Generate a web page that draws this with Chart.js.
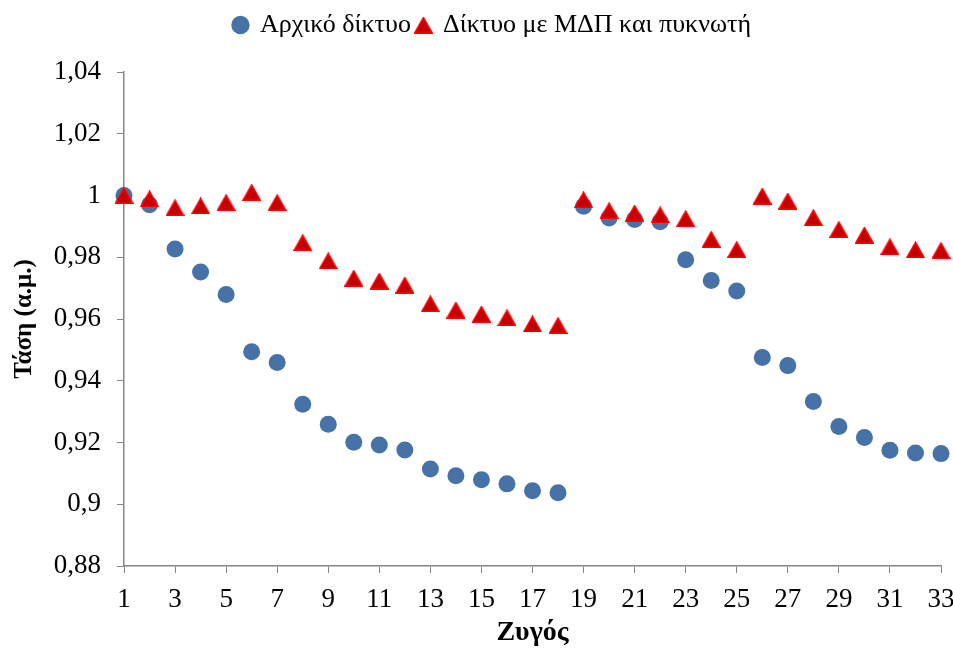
<!DOCTYPE html>
<html>
<head>
<meta charset="utf-8">
<script src="https://cdn.jsdelivr.net/npm/chart.js@4/dist/chart.umd.min.js"></script>
<style>
  html, body { margin: 0; padding: 0; background: #ffffff; }
  #wrap { width: 953px; height: 651px; }
</style>
</head>
<body>
<div id="wrap"><canvas id="chart" width="953" height="651"></canvas></div>
<script>
// Bus numbers (x axis)
const buses = [1, 2, 3, 4, 5, 6, 7, 8, 9, 10, 11, 12, 13, 14, 15, 16, 17,
               18, 19, 20, 21, 22, 23, 24, 25, 26, 27, 28, 29, 30, 31, 32, 33];

// Bus voltage, original network (p.u.)
const voltageBase = [1.0000, 0.9970, 0.9827, 0.9752, 0.9679, 0.9494, 0.9459, 0.9324,
                     0.9259, 0.9201, 0.9192, 0.9176, 0.9114, 0.9092, 0.9079, 0.9066,
                     0.9044, 0.9037, 0.9965, 0.9927, 0.9922, 0.9915, 0.9792, 0.9725,
                     0.9691, 0.9475, 0.9449, 0.9333, 0.9252, 0.9216, 0.9175, 0.9166,
                     0.9164];

// Bus voltage, network with DG and capacitor (p.u.)
const voltageDgCap = [1.0000, 0.9989, 0.9960, 0.9966, 0.9977, 1.0010, 0.9977, 0.9847,
                      0.9788, 0.9732, 0.9723, 0.9710, 0.9649, 0.9629, 0.9616, 0.9604,
                      0.9584, 0.9579, 0.9986, 0.9951, 0.9943, 0.9937, 0.9925, 0.9858,
                      0.9825, 0.9998, 0.9982, 0.9928, 0.9890, 0.9872, 0.9834, 0.9824,
                      0.9822];

const seriesNames = ['Αρχικό δίκτυο', 'Δίκτυο με ΜΔΠ και πυκνωτή'];
const xTitle = 'Ζυγός';
const yTitle = 'Τάση (α.μ.)';
const yRange = { min: 0.88, max: 1.04, step: 0.02 };
const xRange = { min: 1, max: 33, step: 2 };

const FONT = "'Liberation Serif', 'Times New Roman', serif";

// Red triangle marker, centred on its bounding box
function triangleMarker() {
  const c = document.createElement('canvas');
  c.width = 19; c.height = 17;
  const g = c.getContext('2d');
  g.beginPath();
  g.moveTo(9.5, 0.9);
  g.lineTo(18.2, 16.2);
  g.lineTo(0.8, 16.2);
  g.closePath();
  g.fillStyle = '#c40000';
  g.fill();
  g.lineWidth = 1.4;
  g.strokeStyle = '#ff0000';
  g.lineJoin = 'miter';
  g.stroke();
  return c;
}
const tri = triangleMarker();

// Moves the legend row above the plot (right and up)
const legendOffset = {
  id: 'legendOffset',
  afterLayout(chart) {
    const lg = chart.legend;
    if (lg) {
      lg.left += 16; lg.right += 16;
      lg.top -= 24; lg.bottom -= 24;
    }
  }
};

const fmt = v => {
  const r = Math.round(v * 100) / 100;
  return String(r).replace('.', ',');
};

new Chart(document.getElementById('chart'), {
  type: 'scatter',
  data: {
    datasets: [
      {
        label: seriesNames[0],
        data: buses.map((b, i) => ({ x: b, y: voltageBase[i] })),
        order: 1,
        pointStyle: 'circle',
        pointRadius: 8.5,
        pointHoverRadius: 8.5,
        backgroundColor: '#4672a8',
        borderColor: '#4672a8',
        borderWidth: 0,
        showLine: false,
        clip: false
      },
      {
        label: seriesNames[1],
        data: buses.map((b, i) => ({ x: b, y: voltageDgCap[i] })),
        order: 0,
        pointStyle: tri,
        pointRadius: 9,
        pointHoverRadius: 9,
        backgroundColor: '#c40000',
        borderColor: '#ff0000',
        borderWidth: 0,
        showLine: false,
        clip: false
      }
    ]
  },
  options: {
    responsive: false,
    animation: false,
    events: [],
    layout: { padding: { left: 0, right: 0, top: 30, bottom: 0 } },
    plugins: {
      tooltip: { enabled: false },
      legend: {
        position: 'top',
        labels: {
          usePointStyle: true,
          boxWidth: 13,
          boxHeight: 13,
          padding: 6,
          color: '#000000',
          font: { family: FONT, size: 26 },
          sort: (a, b) => a.datasetIndex - b.datasetIndex
        }
      }
    },
    scales: {
      x: {
        type: 'linear',
        min: xRange.min,
        max: xRange.max,
        afterFit(scale) {
          scale.height = 85;
          scale.paddingLeft = 0;
          scale.paddingRight = 12;
        },
        ticks: {
          stepSize: xRange.step,
          color: '#000000',
          padding: 11,
          maxRotation: 0,
          font: { family: FONT, size: 27 }
        },
        grid: {
          drawOnChartArea: false,
          drawTicks: true,
          tickLength: 7,
          color: '#868686',
          lineWidth: 1
        },
        border: { display: true, color: '#868686', width: 1.5 },
        title: {
          display: true,
          text: xTitle,
          color: '#000000',
          padding: { top: 0, bottom: 1 },
          font: { family: FONT, size: 28, weight: 'bold' }
        }
      },
      y: {
        type: 'linear',
        min: yRange.min,
        max: yRange.max,
        afterFit(scale) { scale.width = 124; },
        ticks: {
          stepSize: yRange.step,
          color: '#000000',
          padding: 16,
          font: { family: FONT, size: 27 },
          callback: v => fmt(v)
        },
        grid: {
          drawOnChartArea: false,
          drawTicks: true,
          tickLength: 7,
          color: '#868686',
          lineWidth: 1
        },
        border: { display: true, color: '#868686', width: 1.5 },
        title: {
          display: true,
          text: yTitle,
          color: '#000000',
          padding: { top: 10, bottom: 0 },
          font: { family: FONT, size: 25, weight: 'bold' }
        }
      }
    }
  },
  plugins: [legendOffset]
});
</script>
</body>
</html>
